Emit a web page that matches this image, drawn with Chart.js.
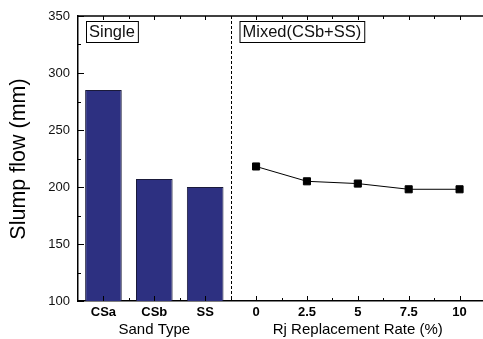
<!DOCTYPE html>
<html>
<head>
<meta charset="utf-8">
<script src="https://cdn.jsdelivr.net/npm/chart.js@4/dist/chart.umd.min.js"></script>
<style>
  html, body { margin: 0; padding: 0; background: #fff; overflow: hidden; }
  #wrap { width: 491px; height: 339px; }
</style>
</head>
<body>
<div id="wrap"><canvas id="chart" width="491" height="339"></canvas></div>
<script>
// categories: three sand types, then the Rj replacement rates
const sandTypes = ['CSa', 'CSb', 'SS'];
const rjRates = ['0', '2.5', '5', '7.5', '10'];
// slump flow (mm)
const singleFlow = [285, 207, 200];
const mixedFlow = [218, 205, 203, 198, 198];
const yTicks = [100, 150, 200, 250, 300, 350];

const labels = sandTypes.concat(rjRates);
const barData = singleFlow.concat(rjRates.map(() => null));
const lineData = sandTypes.map(() => null).concat(mixedFlow);

const FONT = '"Liberation Sans", Arial, sans-serif';

// frame, inward ticks, divider, boxed labels and axis titles
const decor = {
  id: 'decor',
  afterDraw(chart) {
    const ctx = chart.ctx;
    const a = chart.chartArea;
    const x = chart.scales.x, y = chart.scales.y;
    ctx.save();
    ctx.strokeStyle = '#000';
    ctx.lineWidth = 1.5;
    ctx.beginPath();
    ctx.moveTo(a.left, a.top);
    ctx.lineTo(a.right, a.top);
    ctx.stroke();

    // y ticks, major + minor, pointing in
    ctx.lineWidth = 1;
    ctx.beginPath();
    for (let v = 100; v <= 350; v += 25) {
      const py = Math.round(y.getPixelForValue(v)) + 0.5;
      const len = (v % 50 === 0) ? 6 : 3;
      ctx.moveTo(a.left, py);
      ctx.lineTo(a.left + len, py);
    }
    // x ticks on bottom and top
    for (let i = 0; i < labels.length; i++) {
      const px = Math.round(x.getPixelForValue(i)) + 0.5;
      const half = Math.round((x.getPixelForValue(i) + x.getPixelForValue(i + 1)) / 2) + 0.5;
      ctx.moveTo(px, a.bottom); ctx.lineTo(px, a.bottom - 5);
      ctx.moveTo(half, a.bottom); ctx.lineTo(half, a.bottom - 3);
      ctx.moveTo(px, a.top); ctx.lineTo(px, a.top + 4);
      ctx.moveTo(half, a.top); ctx.lineTo(half, a.top + 3);
    }
    ctx.stroke();

    // dashed divider between the two groups
    const dx = Math.round((x.getPixelForValue(2) + x.getPixelForValue(3)) / 2) + 0.5;
    ctx.setLineDash([3, 2]);
    ctx.beginPath();
    ctx.moveTo(dx, a.top);
    ctx.lineTo(dx, a.bottom);
    ctx.stroke();
    ctx.setLineDash([]);

    // boxed panel labels
    ctx.font = '16.5px ' + FONT;
    ctx.textBaseline = 'middle';
    ctx.textAlign = 'left';
    const box = (text, bx) => {
      const w = ctx.measureText(text).width + 6;
      ctx.strokeRect(bx + 0.5, 21.5, w, 21);
      ctx.fillStyle = '#111';
      ctx.fillText(text, bx + 3, 32.5);
    };
    box('Single', a.left + 8);
    box('Mixed(CSb+SS)', dx + 8);

    // axis titles
    ctx.fillStyle = '#000';
    ctx.textAlign = 'center';
    ctx.font = '15px ' + FONT;
    ctx.fillText('Sand Type', x.getPixelForValue(1), 330);
    ctx.fillText('Rj Replacement Rate (%)', x.getPixelForValue(5), 330);
    ctx.font = '21.5px ' + FONT;
    ctx.translate(19, 159);
    ctx.rotate(-Math.PI / 2);
    ctx.fillText('Slump flow (mm)', 0, 0);
    ctx.restore();
  }
};

new Chart(document.getElementById('chart').getContext('2d'), {
  data: {
    labels: labels,
    datasets: [
      {
        type: 'bar',
        label: 'Single',
        data: barData,
        backgroundColor: '#2d3081',
        borderColor: '#1a1a3a',
        borderWidth: 1,
        barPercentage: 0.72,
        categoryPercentage: 1,
        skipNull: true
      },
      {
        type: 'line',
        label: 'Mixed',
        data: lineData,
        borderColor: '#000',
        borderWidth: 1,
        pointStyle: 'rect',
        pointRadius: 5,
        pointBackgroundColor: '#000',
        pointBorderColor: '#000',
        spanGaps: false
      }
    ]
  },
  options: {
    responsive: false,
    animation: false,
    layout: { padding: { top: 16, right: 0, left: 0, bottom: 0 } },
    plugins: { legend: { display: false }, tooltip: { enabled: false } },
    scales: {
      x: {
        type: 'category',
        offset: true,
        grid: { display: false, drawTicks: false },
        border: { display: true, color: '#000', width: 1.5 },
        ticks: {
          color: '#000',
          padding: 4,
          maxRotation: 0,
          font: { family: FONT, size: 13, weight: 'bold' }
        },
        afterFit(scale) { scale.height = 38; }
      },
      y: {
        min: 100,
        max: 350,
        afterBuildTicks(scale) { scale.ticks = yTicks.map(v => ({ value: v })); },
        grid: { display: false, drawTicks: false },
        border: { display: true, color: '#000', width: 1.5 },
        ticks: {
          color: '#111',
          padding: 8,
          font: { family: FONT, size: 13 }
        },
        afterFit(scale) { scale.width = 78; }
      }
    }
  },
  plugins: [decor]
});
</script>
</body>
</html>
